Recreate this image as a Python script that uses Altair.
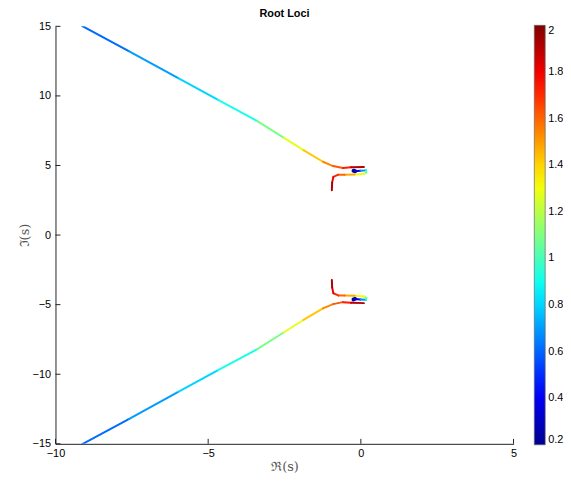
import altair as alt
import pandas as pd

# ---- data (upper half; lower half is the complex conjugate) ----
# outer branch: comes in from the upper left and ends on top of the small loop
outer_re = [-9.12, -7.60, -5.98, -4.69, -3.39, -2.53, -1.88, -1.24, -0.91, -0.59, -0.32, 0.10]
outer_im = [15.02, 13.22, 11.27, 9.73, 8.19, 7.00, 6.10, 5.27, 4.96, 4.82, 4.87, 4.89]
outer_k = [0.58, 0.65, 0.75, 0.85, 0.98, 1.20, 1.35, 1.50, 1.58, 1.66, 1.80, 2.00]

# inner branch: starts at the blue point, loops right, then back left and down
inner_re = [-0.24, -0.19, -0.01, 0.17, 0.18, 0.12, -0.20, -0.53, -0.74, -0.90, -0.94, -0.95]
inner_im = [4.62, 4.59, 4.63, 4.65, 4.52, 4.41, 4.36, 4.34, 4.34, 4.18, 3.77, 3.22]
inner_k = [0.20, 0.25, 0.50, 0.85, 1.00, 1.20, 1.40, 1.55, 1.65, 1.75, 1.85, 2.00]

x_ticks = [-10, -5, 0, 5]
y_ticks = [-15, -10, -5, 0, 5, 10, 15]
cbar_ticks = [0.2, 0.4, 0.6, 0.8, 1.0, 1.2, 1.4, 1.6, 1.8, 2.0]

# jet colormap, sampled at 9 evenly spaced stops over the colour range
k_range = [0.2, 2.0]
jet_colors = ["#00008f", "#0000ff", "#0080ff", "#00ffff", "#80ff80",
              "#ffff00", "#ff8000", "#ff0000", "#800000"]

# ---- build segments ----
rows = []
for re_, im_, k_ in [(outer_re, outer_im, outer_k), (inner_re, inner_im, inner_k)]:
    for sign in (1, -1):
        for i in range(len(re_) - 1):
            rows.append({
                "x": re_[i], "y": sign * im_[i],
                "x2": re_[i + 1], "y2": sign * im_[i + 1],
                "k": (k_[i] + k_[i + 1]) / 2,
                "w": 4 if (re_ is inner_re and i == 0) else 2,
            })
seg = pd.DataFrame(rows)

W, H = 463, 422
FONT = "Liberation Sans"

xs = alt.Scale(domain=[-10, 5], nice=False, zero=False)
ys = alt.Scale(domain=[-15, 15], nice=False, zero=False)
cs = alt.Scale(type="linear", domain=k_range, range=jet_colors, interpolate="rgb", nice=False,
               zero=False)

X = alt.X("x:Q", scale=xs, axis=alt.Axis(
    values=x_ticks, ticks=False, grid=False, labelFlush=False, labelOverlap=False,
    domainColor="#222", domainWidth=1, labelFont=FONT, labelFontSize=11,
    labelColor="#000", labelPadding=4,
    title="ℜ(s)", titleFont="DejaVu Serif", titleFontSize=13, titleFontWeight="normal",
    titleColor="#555", titleX=W / 2, titleY=23, titleBaseline="middle", titleAlign="center"))
Y = alt.Y("y:Q", scale=ys, axis=alt.Axis(
    values=y_ticks, ticks=False, grid=False, labelFlush=False, labelOverlap=False,
    domainColor="#222", domainWidth=1, labelFont=FONT, labelFontSize=11,
    labelColor="#000", labelPadding=5,
    title="ℑ(s)", titleFont="DejaVu Serif", titleFontSize=13, titleFontWeight="normal",
    titleColor="#555", titleAngle=-90, titleX=-31, titleY=H / 2,
    titleBaseline="middle", titleAlign="center"))
C = alt.Color("k:Q", scale=cs,
              legend=alt.Legend(
                  type="gradient", title=None, orient="none", legendX=484, legendY=-1,
                  direction="vertical", gradientLength=H + 2, gradientThickness=11,
                  values=cbar_ticks, format="~g", labelBaseline="middle",
                  labelFont=FONT, labelFontSize=11, labelColor="#000", labelOffset=3,
                  labelOverlap=False, gradientStrokeColor="#666", gradientStrokeWidth=0.7))

lines = alt.Chart(seg).mark_rule(strokeCap="round", clip=True).encode(
    x=X, y=Y, x2="x2:Q", y2="y2:Q", color=C,
    strokeWidth=alt.StrokeWidth("w:Q", scale=None, legend=None))

ytick = alt.Chart(pd.DataFrame({"y": y_ticks})).mark_rule(color="#222", strokeWidth=1).encode(
    y=Y, x=alt.value(0), x2=alt.value(5))
xtick = alt.Chart(pd.DataFrame({"x": x_ticks})).mark_rule(color="#222", strokeWidth=1).encode(
    x=X, y=alt.value(H), y2=alt.value(H - 5))

chart = alt.layer(lines, ytick, xtick).properties(
    width=W, height=H,
    title=alt.TitleParams("Root Loci", font=FONT, fontSize=11, fontWeight="bold",
                          color="#000", anchor="middle", offset=1),
    autosize=alt.AutoSizeParams(type="none"),
    padding={"left": 48, "top": 16, "right": 50, "bottom": 30},
).configure(background="white", view=alt.ViewConfig(strokeWidth=0, stroke="transparent"))

chart.save("out.html", embed_options={"renderer": "svg", "actions": False})
